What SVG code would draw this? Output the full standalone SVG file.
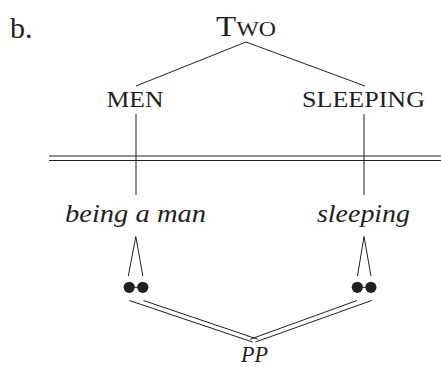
<svg xmlns="http://www.w3.org/2000/svg" width="441" height="367" viewBox="0 0 441 367">
<style>
.t{font-family:"Liberation Serif","Times New Roman",serif;fill:#231f20}
.i{font-style:italic}
.ln{stroke:#231f20;stroke-width:1;fill:none}
.dot{fill:#231f20}
</style>
<rect width="441" height="367" fill="#fff"/>
<text class="t" x="10" y="37.5" font-size="30">b.</text>
<g id="two"><text class="t" x="216" y="36" textLength="60" lengthAdjust="spacingAndGlyphs"><tspan font-size="29">T</tspan><tspan font-size="21">WO</tspan></text></g>
<g id="men"><text class="t" x="106.5" y="107" font-size="22.6" textLength="57" lengthAdjust="spacingAndGlyphs">MEN</text></g>
<g id="sleeping"><text class="t" x="302" y="107" font-size="22.6" textLength="123" lengthAdjust="spacingAndGlyphs">SLEEPING</text></g>
<g id="being-a-man"><text class="t i" x="65" y="222" font-size="26" textLength="141" lengthAdjust="spacingAndGlyphs">being a man</text></g>
<g id="sleeping-i"><text class="t i" x="317" y="222" font-size="26" textLength="93" lengthAdjust="spacingAndGlyphs">sleeping</text></g>
<g id="pp"><text class="t i" x="241" y="362" font-size="24" textLength="27" lengthAdjust="spacingAndGlyphs">PP</text></g>
<g id="dots-left"><circle class="dot" cx="129.2" cy="287.3" r="5.6"/><circle class="dot" cx="142.8" cy="287.3" r="5.6"/><line class="ln" x1="129.2" y1="287.3" x2="142.8" y2="287.3" stroke-width="1.5"/></g>
<g id="dots-right"><circle class="dot" cx="357.3" cy="287.3" r="5.6"/><circle class="dot" cx="370.9" cy="287.3" r="5.6"/><line class="ln" x1="357.3" y1="287.3" x2="370.9" y2="287.3" stroke-width="1.5"/></g>
<g id="connectors">
<path class="ln" d="M136 86 L246 42 L365 86"/>
<line class="ln" x1="136" y1="114" x2="136" y2="195"/>
<line class="ln" x1="364" y1="114" x2="364" y2="195"/>
<line class="ln" x1="49" y1="156" x2="441" y2="156"/>
<line class="ln" x1="49" y1="160.5" x2="441" y2="160.5"/>
<path class="ln" d="M128.3 276 L135.8 236.5 L142.8 276"/>
<path class="ln" d="M357.5 276 L364 236.5 L371 276"/>
<line class="ln" x1="129.3" y1="300.5" x2="252.5" y2="342"/>
<line class="ln" x1="143.5" y1="300.5" x2="258" y2="339.3"/>
<line class="ln" x1="371.7" y1="300.5" x2="255.5" y2="342"/>
<line class="ln" x1="357" y1="300.5" x2="250" y2="339.3"/>
</g>
</svg>
